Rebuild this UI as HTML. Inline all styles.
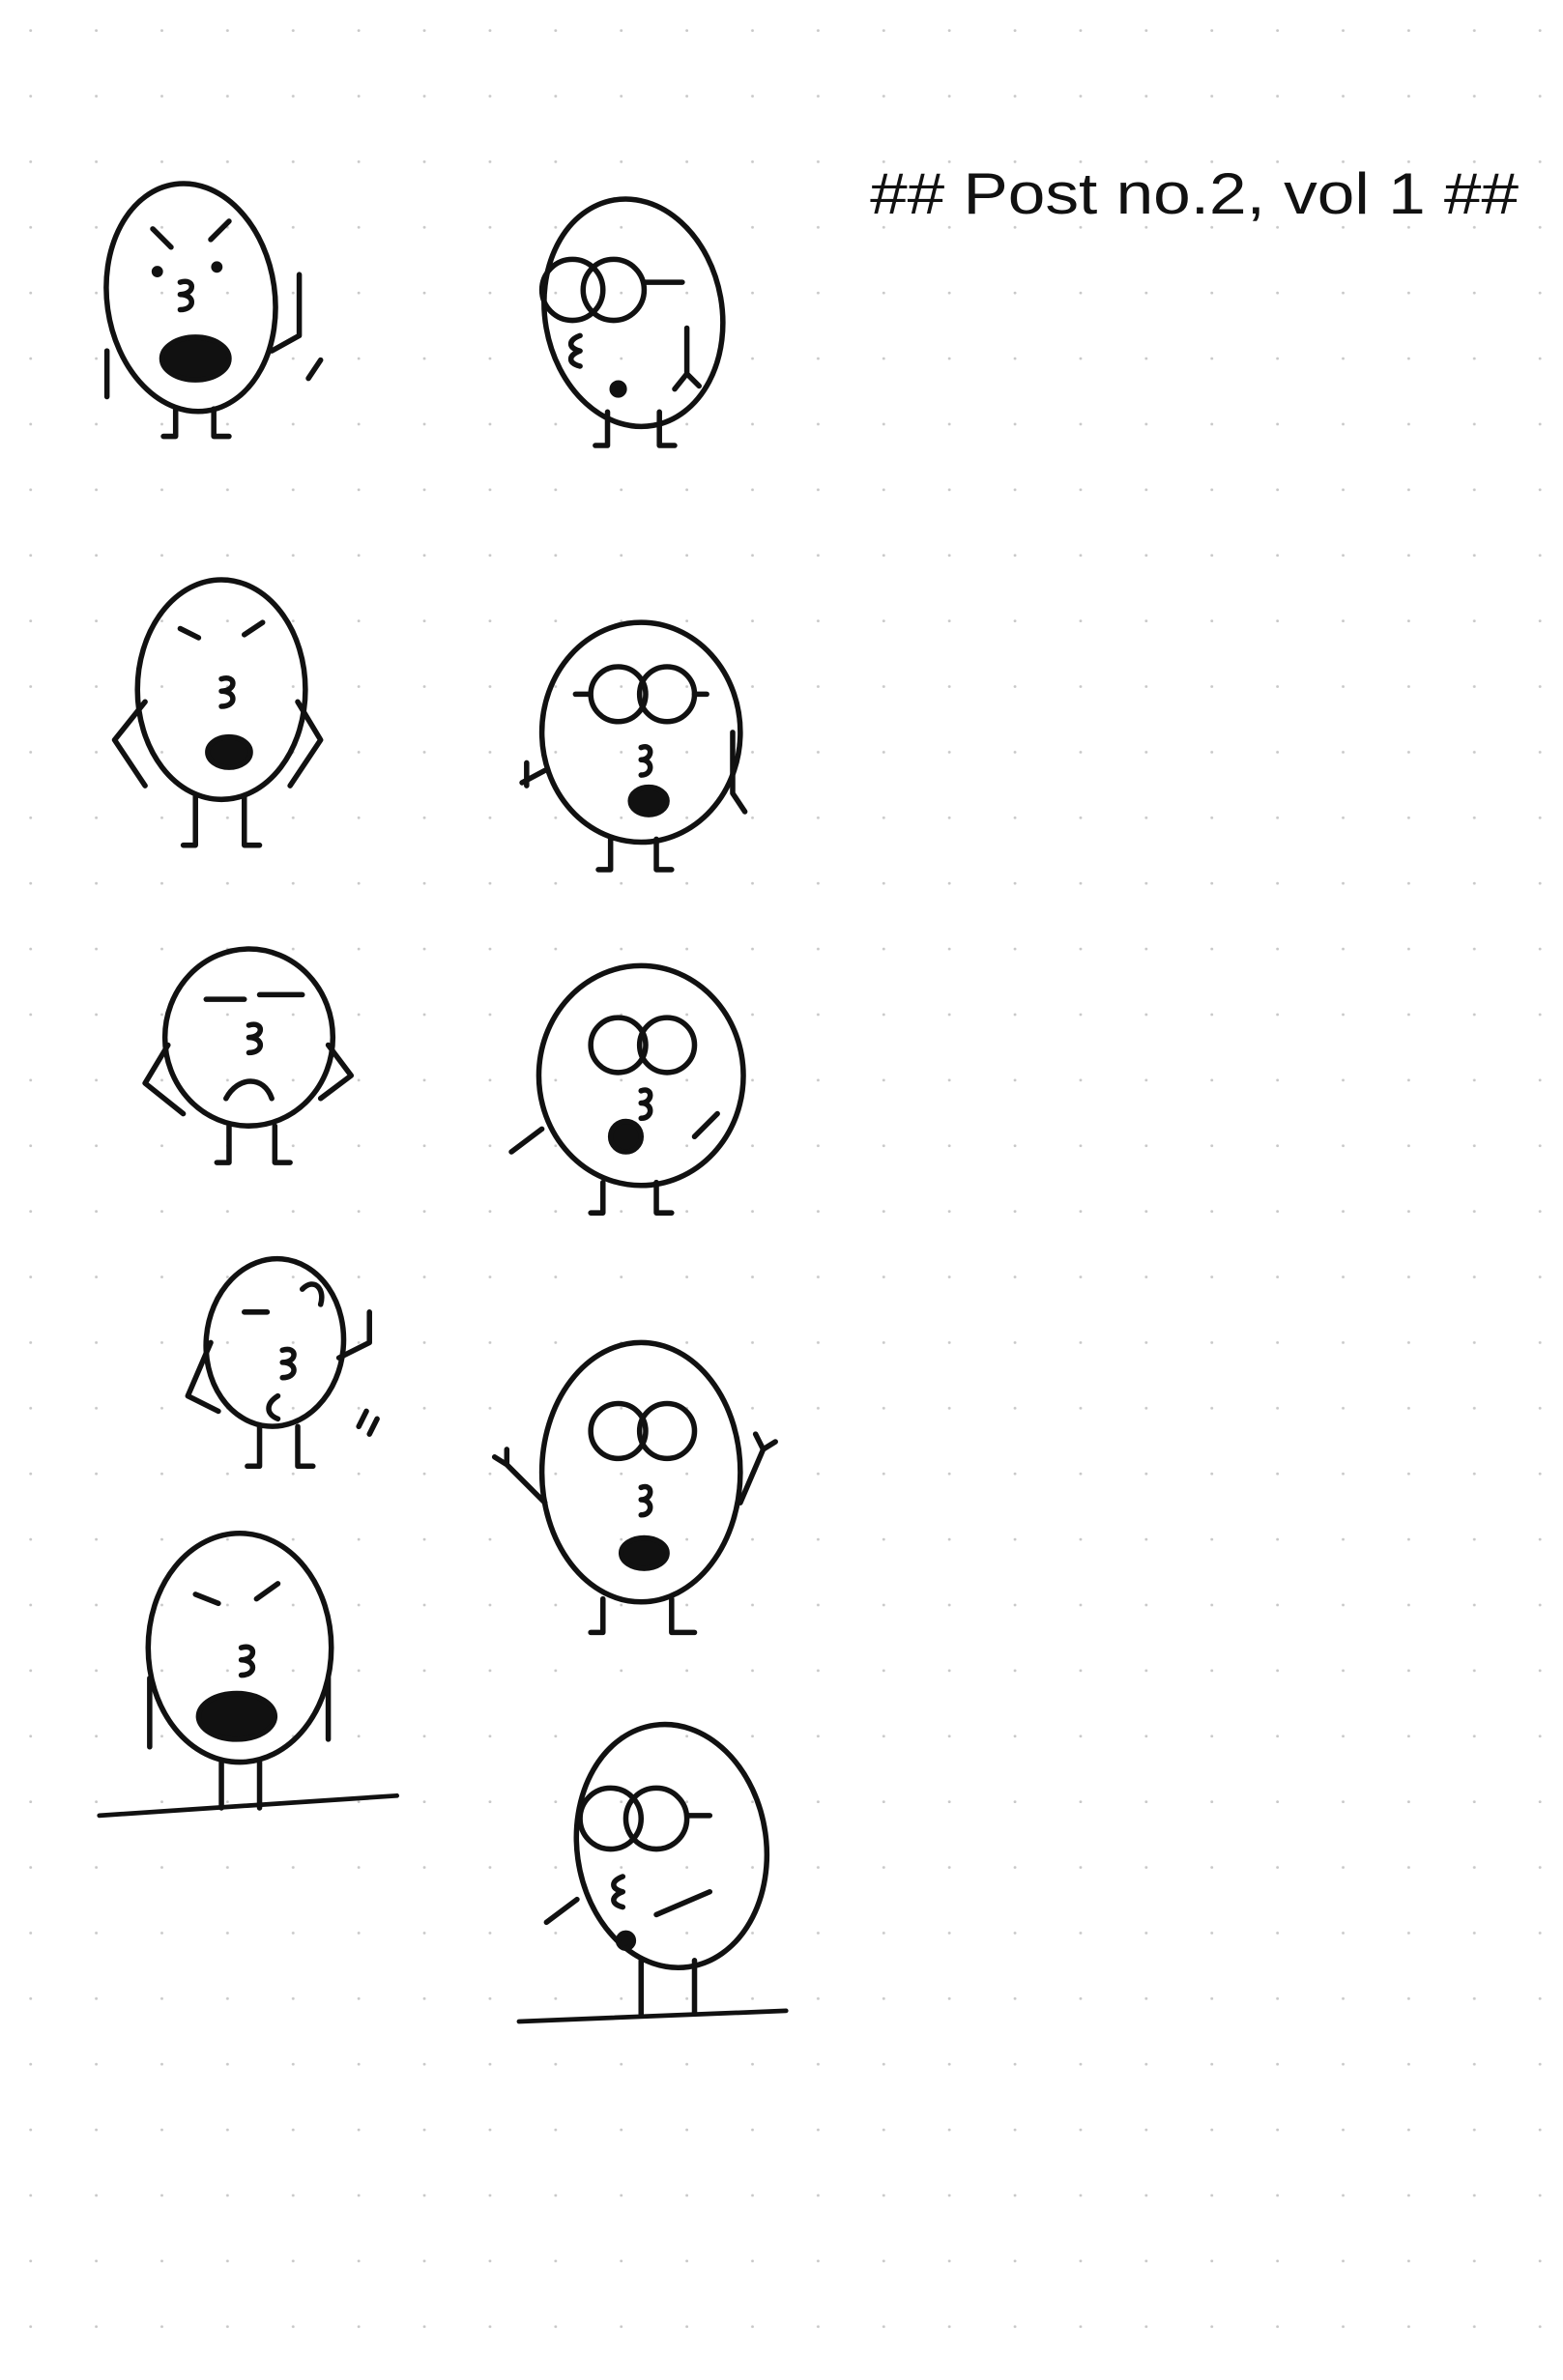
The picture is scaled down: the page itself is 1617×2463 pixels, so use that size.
<!DOCTYPE html>
<html><head><meta charset="utf-8"><style>
html,body{margin:0;padding:0;background:#fff;}
svg{display:block;}
</style></head><body>
<svg width="1617" height="2463" viewBox="0 0 1024 1560" xmlns="http://www.w3.org/2000/svg">
<defs>
<pattern id="dots" width="43" height="43" patternUnits="userSpaceOnUse"><circle cx="20" cy="20" r="0.9" fill="#c8c8c8"/></pattern>
</defs>
<rect width="1024" height="1560" fill="#fff"/>
<rect width="1024" height="1560" fill="url(#dots)"/>
<text x="570" y="140" textLength="425" lengthAdjust="spacingAndGlyphs" font-family="Liberation Sans, sans-serif" font-size="38" fill="#111">## Post no.2,  vol 1 ##</text>
<g fill="none" stroke="#111" stroke-width="3.5" stroke-linecap="round" stroke-linejoin="round">
<g>
<ellipse cx="125" cy="195" rx="55" ry="75" transform="rotate(-8 125 195)"/>
<path d="M100 150l12 12M150 145l-12 12M118 185c10-3 10 8 0 8c10 0 10 10 0 10"/>
<ellipse cx="128" cy="235" rx="22" ry="14" fill="#111"/>
<path d="M115 268v18h-8M140 268v18h10M70 230v30M178 230l18-10v-40M202 248l8-12"/>
<circle cx="103" cy="178" r="2" fill="#111"/><circle cx="142" cy="175" r="2" fill="#111"/>
</g>
<g>
<ellipse cx="145" cy="452" rx="55" ry="72"/>
<path d="M118 412l12 6M172 408l-12 8M145 445c10-3 10 8 0 8c10 0 10 10 0 10M95 460l-20 25 20 30M195 460l15 25-20 30M128 522v32h-8M160 522v32h10"/>
<ellipse cx="150" cy="493" rx="14" ry="10" fill="#111"/>
</g>
<g>
<ellipse cx="163" cy="680" rx="55" ry="58"/>
<path d="M135 655h25M170 652h28M163 672c10-3 10 8 0 8c10 0 10 10 0 10M148 720c8-15 25-15 30 0M110 685l-15 25 25 20M215 685l15 20-20 15M150 738v24h-8M180 738v24h10"/>
</g>
<g>
<ellipse cx="180" cy="880" rx="45" ry="55" transform="rotate(5 180 880)"/>
<path d="M160 860h15M198 845c8-8 15 0 12 10M185 885c10-3 10 8 0 8c10 0 10 10 0 10M182 915c-8 5-8 12 0 15M138 880l-15 35 20 10M222 890l20-10v-20M170 935v26h-8M195 935v26h10M235 935l5-10M242 940l5-10"/>
</g>
<g>
<ellipse cx="157" cy="1080" rx="60" ry="75"/>
<path d="M128 1045l15 6M182 1038l-14 10M158 1080c10-3 10 8 0 8c10 0 10 10 0 10M98 1100v45M215 1100v40M145 1155v30M170 1155v30"/>
<ellipse cx="155" cy="1125" rx="25" ry="15" fill="#111"/>
</g>
<path d="M65 1190L260 1177" stroke-width="3"/>
<g>
<ellipse cx="415" cy="205" rx="58" ry="75" transform="rotate(-10 415 205)"/>
<circle cx="375" cy="190" r="20"/><circle cx="402" cy="190" r="20"/>
<path d="M422 185h25M380 220c-8 3-8 8 0 10c-8 3-8 8 0 10M398 270v22h-8M432 270v22h10M450 215v30l-8 10M450 245l8 8"/>
<circle cx="405" cy="255" r="4" fill="#111"/>
</g>
<g>
<ellipse cx="420" cy="480" rx="65" ry="72"/>
<circle cx="405" cy="455" r="18"/><circle cx="437" cy="455" r="18"/>
<path d="M385 455h-8M455 455h8M420 490c8-3 8 8 0 8c8 0 8 10 0 10M357 505l-15 8M345 500v15M480 480v40l8 12M400 550v20h-8M430 550v20h10"/>
<ellipse cx="425" cy="525" rx="12" ry="9" fill="#111"/>
</g>
<g>
<ellipse cx="420" cy="705" rx="67" ry="72"/>
<circle cx="405" cy="685" r="18"/><circle cx="437" cy="685" r="18"/>
<path d="M420 715c8-3 8 8 0 8c8 0 8 10 0 10M355 740l-20 15M470 730l-15 15M395 775v20h-8M430 775v20h10"/>
<ellipse cx="410" cy="745" rx="10" ry="10" fill="#111"/>
</g>
<g>
<ellipse cx="420" cy="965" rx="65" ry="85"/>
<circle cx="405" cy="938" r="18"/><circle cx="437" cy="938" r="18"/>
<path d="M420 975c8-3 8 8 0 8c8 0 8 10 0 10M357 985l-25-25M332 960l-8-5M332 960v-10M485 985l15-35M500 950l8-5M500 950l-5-10M395 1048v22h-8M440 1048v22h15"/>
<ellipse cx="422" cy="1018" rx="15" ry="10" fill="#111"/>
</g>
<g>
<ellipse cx="440" cy="1210" rx="62" ry="80" transform="rotate(-8 440 1210)"/>
<circle cx="400" cy="1192" r="20"/><circle cx="430" cy="1192" r="20"/>
<path d="M450 1190h15M408 1230c-8 3-8 8 0 10c-8 3-8 8 0 10M378 1245l-20 15M430 1255l35-15M420 1285v35M455 1285v35"/>
<circle cx="410" cy="1272" r="5" fill="#111"/>
</g>
<path d="M340 1325L515 1318" stroke-width="3"/>
</g>
</svg>
</body></html>
